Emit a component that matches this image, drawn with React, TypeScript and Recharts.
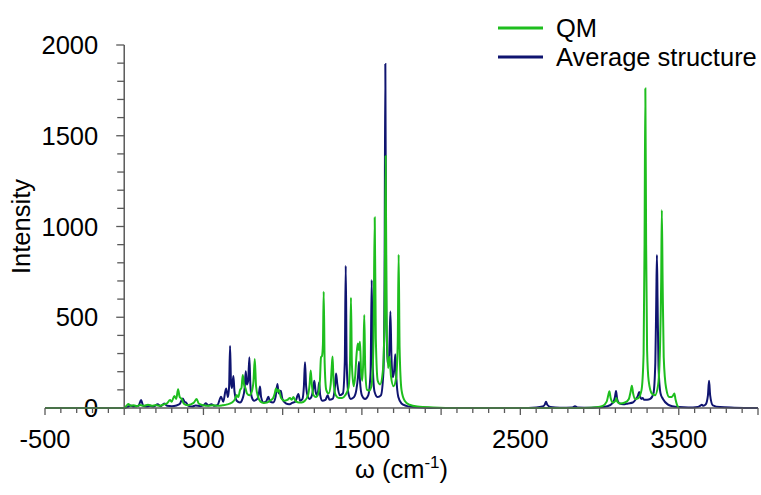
import { LineChart, Line, XAxis, YAxis, ReferenceLine, Legend, Label } from "recharts"

// wavenumber (cm-1), intensity
const avgPoints: [number, number][] = [
  [0, 0], [20, 5], [40, 14], [60, 8], [90, 12], [106, 44], [120, 12], [140, 8], [163, 12],
  [185, 8], [211, 20], [230, 10], [253, 25], [270, 12], [300, 10], [330, 14], [350, 22],
  [369, 53], [380, 35], [390, 30], [405, 12], [430, 8], [450, 14], [480, 10], [500, 14],
  [516, 26], [530, 14], [550, 20], [570, 12], [590, 18], [611, 62], [625, 35], [643, 108],
  [655, 60], [662, 120], [668, 342], [674, 140], [680, 110], [689, 176], [696, 90], [710, 40],
  [730, 30], [750, 60], [760, 110], [767, 202], [774, 130], [782, 150], [790, 279], [796, 130],
  [805, 60], [820, 40], [840, 50], [850, 80], [857, 118], [864, 60], [880, 30], [895, 35],
  [910, 62], [920, 35], [940, 30], [955, 60], [967, 132], [975, 80], [988, 95], [998, 50],
  [1020, 25], [1040, 20], [1060, 28], [1080, 35], [1099, 77], [1110, 40], [1125, 50],
  [1134, 120], [1141, 252], [1148, 120], [1160, 60], [1170, 50], [1185, 70], [1193, 110],
  [1200, 150], [1208, 90], [1218, 70], [1225, 100], [1230, 140], [1237, 70], [1250, 40],
  [1270, 45], [1284, 70], [1295, 45], [1315, 50], [1328, 100], [1337, 190], [1345, 130],
  [1360, 70], [1380, 80], [1392, 250], [1398, 784], [1404, 250], [1415, 80], [1430, 50],
  [1450, 60], [1465, 100], [1476, 180], [1482, 255], [1488, 150], [1500, 70], [1520, 50],
  [1540, 70], [1555, 200], [1562, 705], [1569, 220], [1580, 90], [1600, 60], [1620, 70],
  [1636, 200], [1643, 700], [1648, 1895], [1653, 650], [1660, 250], [1670, 250], [1675, 380],
  [1680, 531], [1686, 300], [1695, 170], [1704, 210], [1711, 296], [1718, 160], [1730, 60],
  [1750, 25], [1780, 12], [1820, 5], [1900, 2], [2000, 0], [2500, 0], [2600, 3], [2640, 8],
  [2655, 20], [2662, 35], [2670, 18], [2690, 6], [2750, 2], [2830, 3], [2845, 10], [2860, 3],
  [2950, 2], [3000, 4], [3050, 10], [3085, 30], [3097, 60], [3104, 94], [3111, 50], [3125, 25],
  [3150, 20], [3180, 25], [3210, 30], [3230, 50], [3243, 70], [3250, 88], [3257, 60],
  [3265, 50], [3272, 55], [3280, 45], [3300, 45], [3320, 50], [3340, 80], [3352, 250],
  [3358, 600], [3362, 843], [3366, 600], [3372, 230], [3385, 80], [3400, 50], [3430, 20],
  [3460, 10], [3500, 5], [3560, 3], [3620, 6], [3638, 14], [3645, 18], [3655, 12], [3670, 20],
  [3684, 70], [3691, 150], [3698, 70], [3715, 15], [3760, 5], [3850, 2], [4000, 0],
]

const qmPoints: [number, number][] = [
  [-500, 0], [0, 0], [10, 8], [26, 22], [40, 12], [60, 15], [80, 10], [100, 16], [125, 12],
  [150, 18], [175, 12], [200, 16], [225, 12], [250, 20], [270, 25], [289, 44], [300, 35],
  [316, 66], [328, 50], [340, 103], [350, 60], [363, 50], [375, 25], [400, 15], [420, 20],
  [440, 30], [457, 50], [470, 25], [500, 15], [530, 12], [560, 15], [590, 12], [620, 15],
  [650, 20], [680, 30], [700, 50], [710, 72], [720, 60], [731, 99], [740, 110], [748, 182],
  [756, 130], [765, 110], [775, 80], [790, 70], [805, 90], [816, 150], [824, 270], [832, 120],
  [845, 60], [860, 35], [880, 28], [900, 30], [920, 40], [940, 55], [950, 80], [958, 108],
  [966, 90], [975, 100], [990, 55], [1010, 40], [1030, 45], [1046, 55], [1057, 45], [1068, 60],
  [1080, 40], [1100, 30], [1120, 30], [1140, 40], [1160, 70], [1170, 130], [1177, 206],
  [1184, 130], [1195, 70], [1210, 60], [1225, 80], [1235, 150], [1242, 280], [1248, 286],
  [1254, 350], [1259, 641], [1265, 250], [1275, 100], [1290, 80], [1303, 130], [1310, 230],
  [1315, 284], [1321, 150], [1335, 70], [1355, 55], [1375, 55], [1395, 70], [1415, 110],
  [1425, 250], [1431, 608], [1437, 240], [1448, 120], [1458, 180], [1466, 290], [1474, 356],
  [1481, 320], [1488, 365], [1495, 200], [1503, 150], [1510, 300], [1515, 512], [1521, 220],
  [1532, 100], [1545, 95], [1560, 120], [1573, 350], [1581, 1049], [1588, 380], [1600, 150],
  [1615, 130], [1632, 200], [1643, 500], [1650, 1388], [1656, 500], [1665, 220], [1675, 283],
  [1683, 180], [1700, 120], [1715, 160], [1726, 350], [1732, 845], [1738, 330], [1750, 100],
  [1770, 40], [1800, 18], [1850, 8], [1950, 3], [2100, 0], [2900, 0], [2980, 4], [3020, 12],
  [3045, 35], [3055, 70], [3062, 92], [3070, 55], [3085, 30], [3100, 40], [3106, 55],
  [3112, 35], [3130, 25], [3160, 30], [3185, 50], [3196, 90], [3204, 123], [3212, 80],
  [3225, 50], [3245, 55], [3265, 100], [3278, 300], [3284, 900], [3289, 1760], [3294, 900],
  [3300, 320], [3310, 150], [3330, 80], [3350, 70], [3370, 130], [3382, 350], [3389, 700],
  [3393, 1091], [3398, 700], [3405, 280], [3420, 110], [3440, 60], [3455, 60], [3465, 70],
  [3472, 80], [3480, 45], [3490, 15], [3502, 0],
]

const seriesNames = ["QM", "Average structure"]
const seriesColors = ["#1ebe1e", "#0f1470"]

const xLabels = [-500, 500, 1500, 2500, 3500]
const yLabels = [0, 500, 1000, 1500, 2000]

const W = 761
const H = 495
const margin = { top: 45, right: 3, left: 45, bottom: 47 }
const xDomain = [-500, 4000]
const yDomain = [0, 2000]
const plotW = W - margin.left - margin.right
const unitsPerPx = (xDomain[1] - xDomain[0]) / plotW

const xTicks = Array.from({ length: 46 }, (_, i) => -500 + i * 100)
const yTicks = Array.from({ length: 21 }, (_, i) => i * 100)

const axisColor = "#595959"
const font = "'Liberation Sans', Arial, sans-serif"
const fs = 25.5

const avgData = avgPoints.map(([x, y]) => ({ x, y }))
const qmData = qmPoints.map(([x, y]) => ({ x, y }))

function XTick(props: any) {
  const { x, y, payload } = props
  const v = payload.value
  const major = v % 500 === 0
  return (
    <g>
      <line x1={x} x2={x} y1={y} y2={y + (major ? 7 : 5)} stroke={axisColor} strokeWidth={1.3} />
      {xLabels.includes(v) && (
        <text x={x} y={y + 31} textAnchor="middle" dominantBaseline="central"
          fontSize={fs} fontFamily={font} fill="#000">
          {v}
        </text>
      )}
    </g>
  )
}

function LegendBox() {
  return (
    <svg width={281} height={75}>
      {seriesNames.map((name, i) => (
        <g key={name}>
          <line x1={18} x2={63} y1={28 + i * 29} y2={28 + i * 29}
            stroke={seriesColors[i]} strokeWidth={3} />
          <text x={76} y={28 + i * 29} dominantBaseline="central"
            fontSize={fs} fontFamily={font} fill="#000">
            {name}
          </text>
        </g>
      ))}
    </svg>
  )
}

export default function App() {
  return (
    <div style={{ position: "fixed", left: 0, top: 0, background: "#fff" }}>
      <LineChart width={W} height={H} margin={margin}>
        <XAxis
          dataKey="x"
          type="number"
          domain={xDomain}
          ticks={xTicks}
          interval={0}
          allowDataOverflow
          height={40}
          tickSize={0}
          tickMargin={0}
          tick={<XTick />}
          axisLine={{ stroke: axisColor, strokeWidth: 1.5 }}
          tickLine={false}
        >
          <Label
            content={({ viewBox }: any) => (
              <text x={viewBox.x + viewBox.width / 2} y={478} textAnchor="middle"
                fontSize={fs} fontFamily={font} fill="#000">
                ω (cm
                <tspan fontSize={17} dy={-10}>-1</tspan>
                <tspan dy={10}>)</tspan>
              </text>
            )}
          />
        </XAxis>
        <YAxis type="number" domain={yDomain} hide width={0}>
        </YAxis>
        {/* y axis crosses at x = 0 */}
        <ReferenceLine x={0} stroke={axisColor} strokeWidth={1.5}>
          <Label
            content={({ viewBox }: any) => (
              <text x={0} y={0}
                transform={`translate(30, ${viewBox.y + viewBox.height / 2}) rotate(-90)`}
                textAnchor="middle" fontSize={fs} fontFamily={font} fill="#000">
                Intensity
              </text>
            )}
          />
        </ReferenceLine>
        {yTicks.map((v) => {
          const major = v % 500 === 0
          return (
            <ReferenceLine
              key={v}
              segment={[{ x: -(major ? 8 : 7) * unitsPerPx, y: v }, { x: 0, y: v }]}
              stroke={axisColor}
              strokeWidth={1.3}
            >
              {yLabels.includes(v) && (
                <Label
                  content={({ viewBox }: any) => (
                    <text x={viewBox.x - 18} y={viewBox.y} textAnchor="end" dominantBaseline="central"
                      fontSize={fs} fontFamily={font} fill="#000">
                      {v}
                    </text>
                  )}
                />
              )}
            </ReferenceLine>
          )
        })}
        <Legend
          layout="horizontal"
          verticalAlign="middle"
          align="center"
          content={() => <LegendBox />}
          wrapperStyle={{ top: 0, left: 480, width: 281, height: 75 }}
        />
        <Line
          data={avgData}
          dataKey="y"
          name={seriesNames[1]}
          type="monotone"
          stroke={seriesColors[1]}
          strokeWidth={2}
          dot={false}
          activeDot={false}
          isAnimationActive={false}
        />
        <Line
          data={qmData}
          dataKey="y"
          name={seriesNames[0]}
          type="monotone"
          stroke={seriesColors[0]}
          strokeWidth={2}
          dot={false}
          activeDot={false}
          isAnimationActive={false}
        />
      </LineChart>
    </div>
  )
}
